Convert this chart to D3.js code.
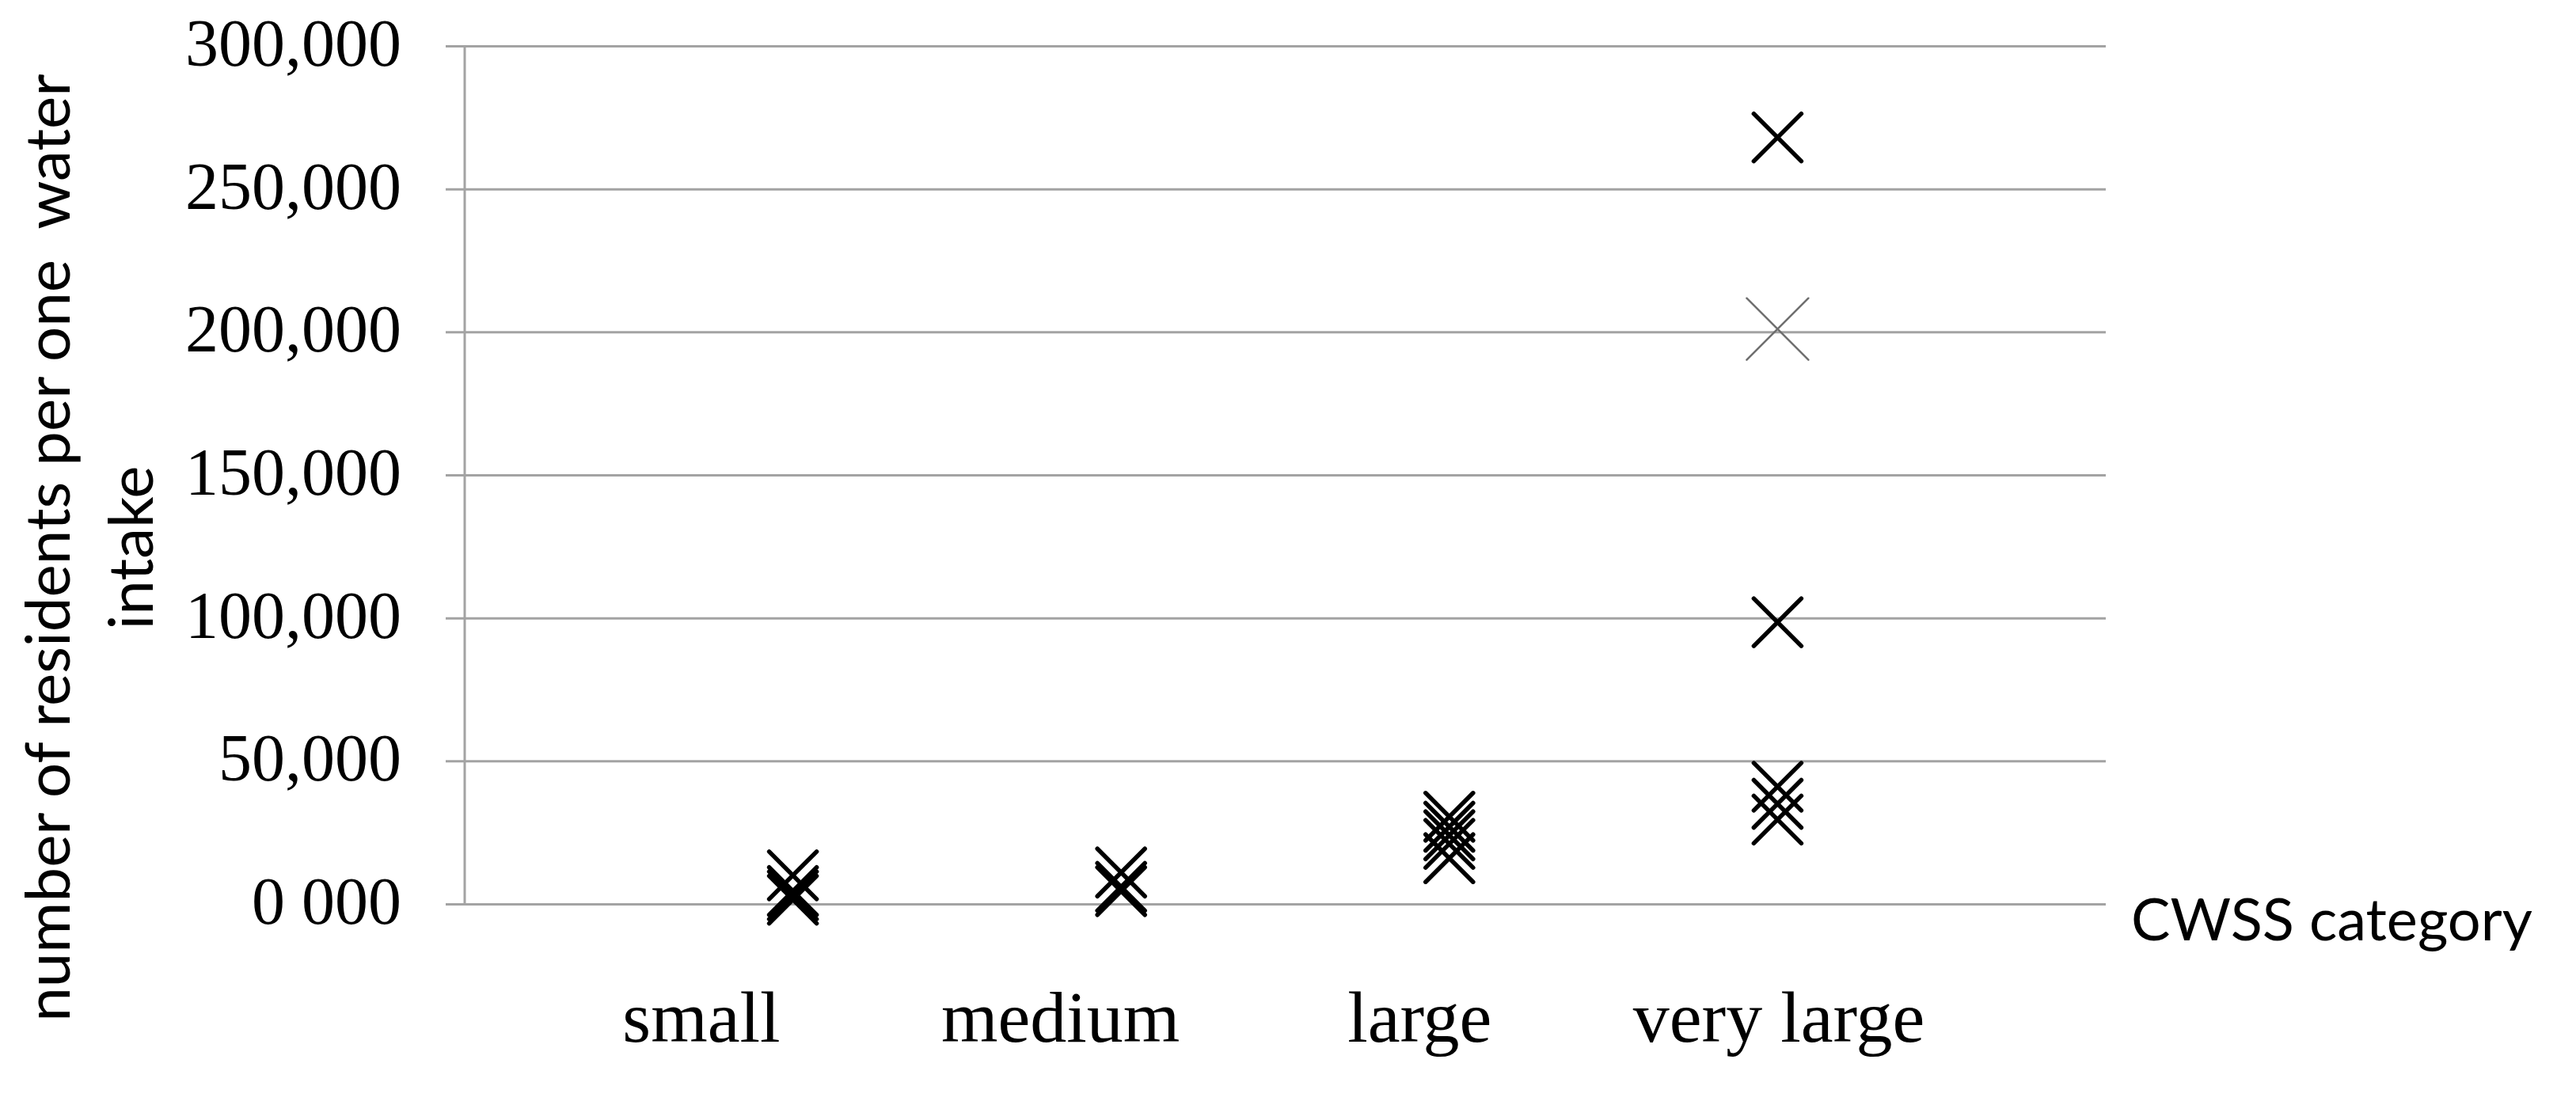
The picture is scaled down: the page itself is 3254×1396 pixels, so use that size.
<!DOCTYPE html>
<html>
<head>
<meta charset="utf-8">
<script src="https://cdn.jsdelivr.net/npm/d3@7"></script>
<style>
  body { margin: 0; background: #fff; }
  .tick-label { font-family: "Liberation Serif", serif; font-size: 84px; fill: #000; }
  .cat-label { font-family: "Liberation Serif", serif; font-size: 92px; fill: #000; }
  .title { font-family: Lato, "Liberation Sans", sans-serif; fill: #000; }
</style>
</head>
<body>
<div id="chart"></div>
<script>
// categories (x = 1..4 on a hidden scatter axis)
const categories = ["small", "medium", "large", "very large"];

// residents per one water intake
const smallValues = [10000, 4500, 3000, 1500];
const mediumValues = [11000, 6000, 4500];
const largeValues = [30500, 27000, 24000, 21000, 16000];
const veryLargeValues = [268000, 98500, 41000, 35000, 29500];
// second (grey) series, only one point in "very large"
const greyValues = [201000];

const yTicks = [0, 50000, 100000, 150000, 200000, 250000, 300000];
const yTickLabels = ["0 000", "50,000", "100,000", "150,000", "200,000", "250,000", "300,000"];

const yTitleLines = ["number of residents per one  water", "intake"];
const xTitle = "CWSS category";

const width = 3254;
const height = 1396;
const plot = { left: 587, right: 2660, top: 58, bottom: 1142 };

const gridColour = "#a3a3a3";

const svg = d3
  .select("#chart")
  .append("svg")
  .attr("width", width)
  .attr("height", height)
  .style("background", "#fff");

const xScale = d3.scaleLinear().domain([0, 5]).range([plot.left, plot.right]);
const yScale = d3.scaleLinear().domain([0, 300000]).range([plot.bottom, plot.top]);

// category text boxes sit a bit apart from the markers in the original
const labelScale = d3.scalePoint().domain(categories).range([886, 2247]);

// gridlines + tick labels
const tickOverhang = 24;
const yAxis = d3
  .axisLeft(yScale)
  .tickValues(yTicks)
  .tickSize(plot.right - plot.left + tickOverhang)
  .tickPadding(56)
  .tickFormat((d, i) => yTickLabels[i]);

const yy = svg
  .append("g")
  .attr("class", "y axis")
  .attr("transform", `translate(${plot.right},0)`)
  .call(yAxis);

yy.select(".domain").remove();
yy.selectAll(".tick line")
  .attr("stroke", gridColour)
  .attr("stroke-width", 3);
yy.selectAll(".tick text")
  .attr("class", "tick-label")
  .attr("fill", "#000")
  .attr("dy", "0.29em");
yy.attr("font-family", null).attr("font-size", null);

// vertical axis line
svg
  .append("line")
  .attr("x1", xScale(0))
  .attr("x2", xScale(0))
  .attr("y1", yScale(300000))
  .attr("y2", yScale(0))
  .attr("stroke", gridColour)
  .attr("stroke-width", 3);

// category labels
svg
  .append("g")
  .selectAll("text")
  .data(categories)
  .enter()
  .append("text")
  .attr("class", "cat-label")
  .attr("x", d => labelScale(d))
  .attr("y", 1316)
  .attr("text-anchor", "middle")
  .text(d => d);

// axis titles
svg
  .append("text")
  .attr("class", "title")
  .attr("x", 2692)
  .attr("y", 1188)
  .style("font-size", "74px")
  .text(xTitle);

const yTitle = svg
  .append("text")
  .attr("class", "title")
  .attr("transform", "translate(88,692) rotate(-90)")
  .attr("text-anchor", "middle")
  .attr("xml:space", "preserve")
  .style("font-size", "78px");

yTitle
  .selectAll("tspan")
  .data(yTitleLines)
  .enter()
  .append("tspan")
  .attr("x", 0)
  .attr("y", (d, i) => i * 105)
  .style("white-space", "pre")
  .text(d => d);

// markers
const mainSeries = [smallValues, mediumValues, largeValues, veryLargeValues];
const points = [];
mainSeries.forEach((vals, i) => {
  vals.forEach(v => points.push({ x: i + 1, y: v }));
});
const greyPoints = greyValues.map(v => ({ x: 4, y: v }));

function drawCross(g, data, half, colour, strokeWidth) {
  return g
    .selectAll("path")
    .data(data)
    .enter()
    .append("path")
    .attr("transform", d => `translate(${xScale(d.x)},${yScale(d.y)})`)
    .attr("d", `M${-half},${-half}L${half},${half}M${-half},${half}L${half},${-half}`)
    .attr("fill", "none")
    .attr("stroke", colour)
    .attr("stroke-width", strokeWidth)
    .attr("stroke-linecap", "round");
}

drawCross(svg.append("g").attr("class", "grey-series"), greyPoints, 39, "#6e6e6e", 2.5);
drawCross(svg.append("g").attr("class", "main-series"), points, 30, "#000", 5.5);
</script>
</body>
</html>
